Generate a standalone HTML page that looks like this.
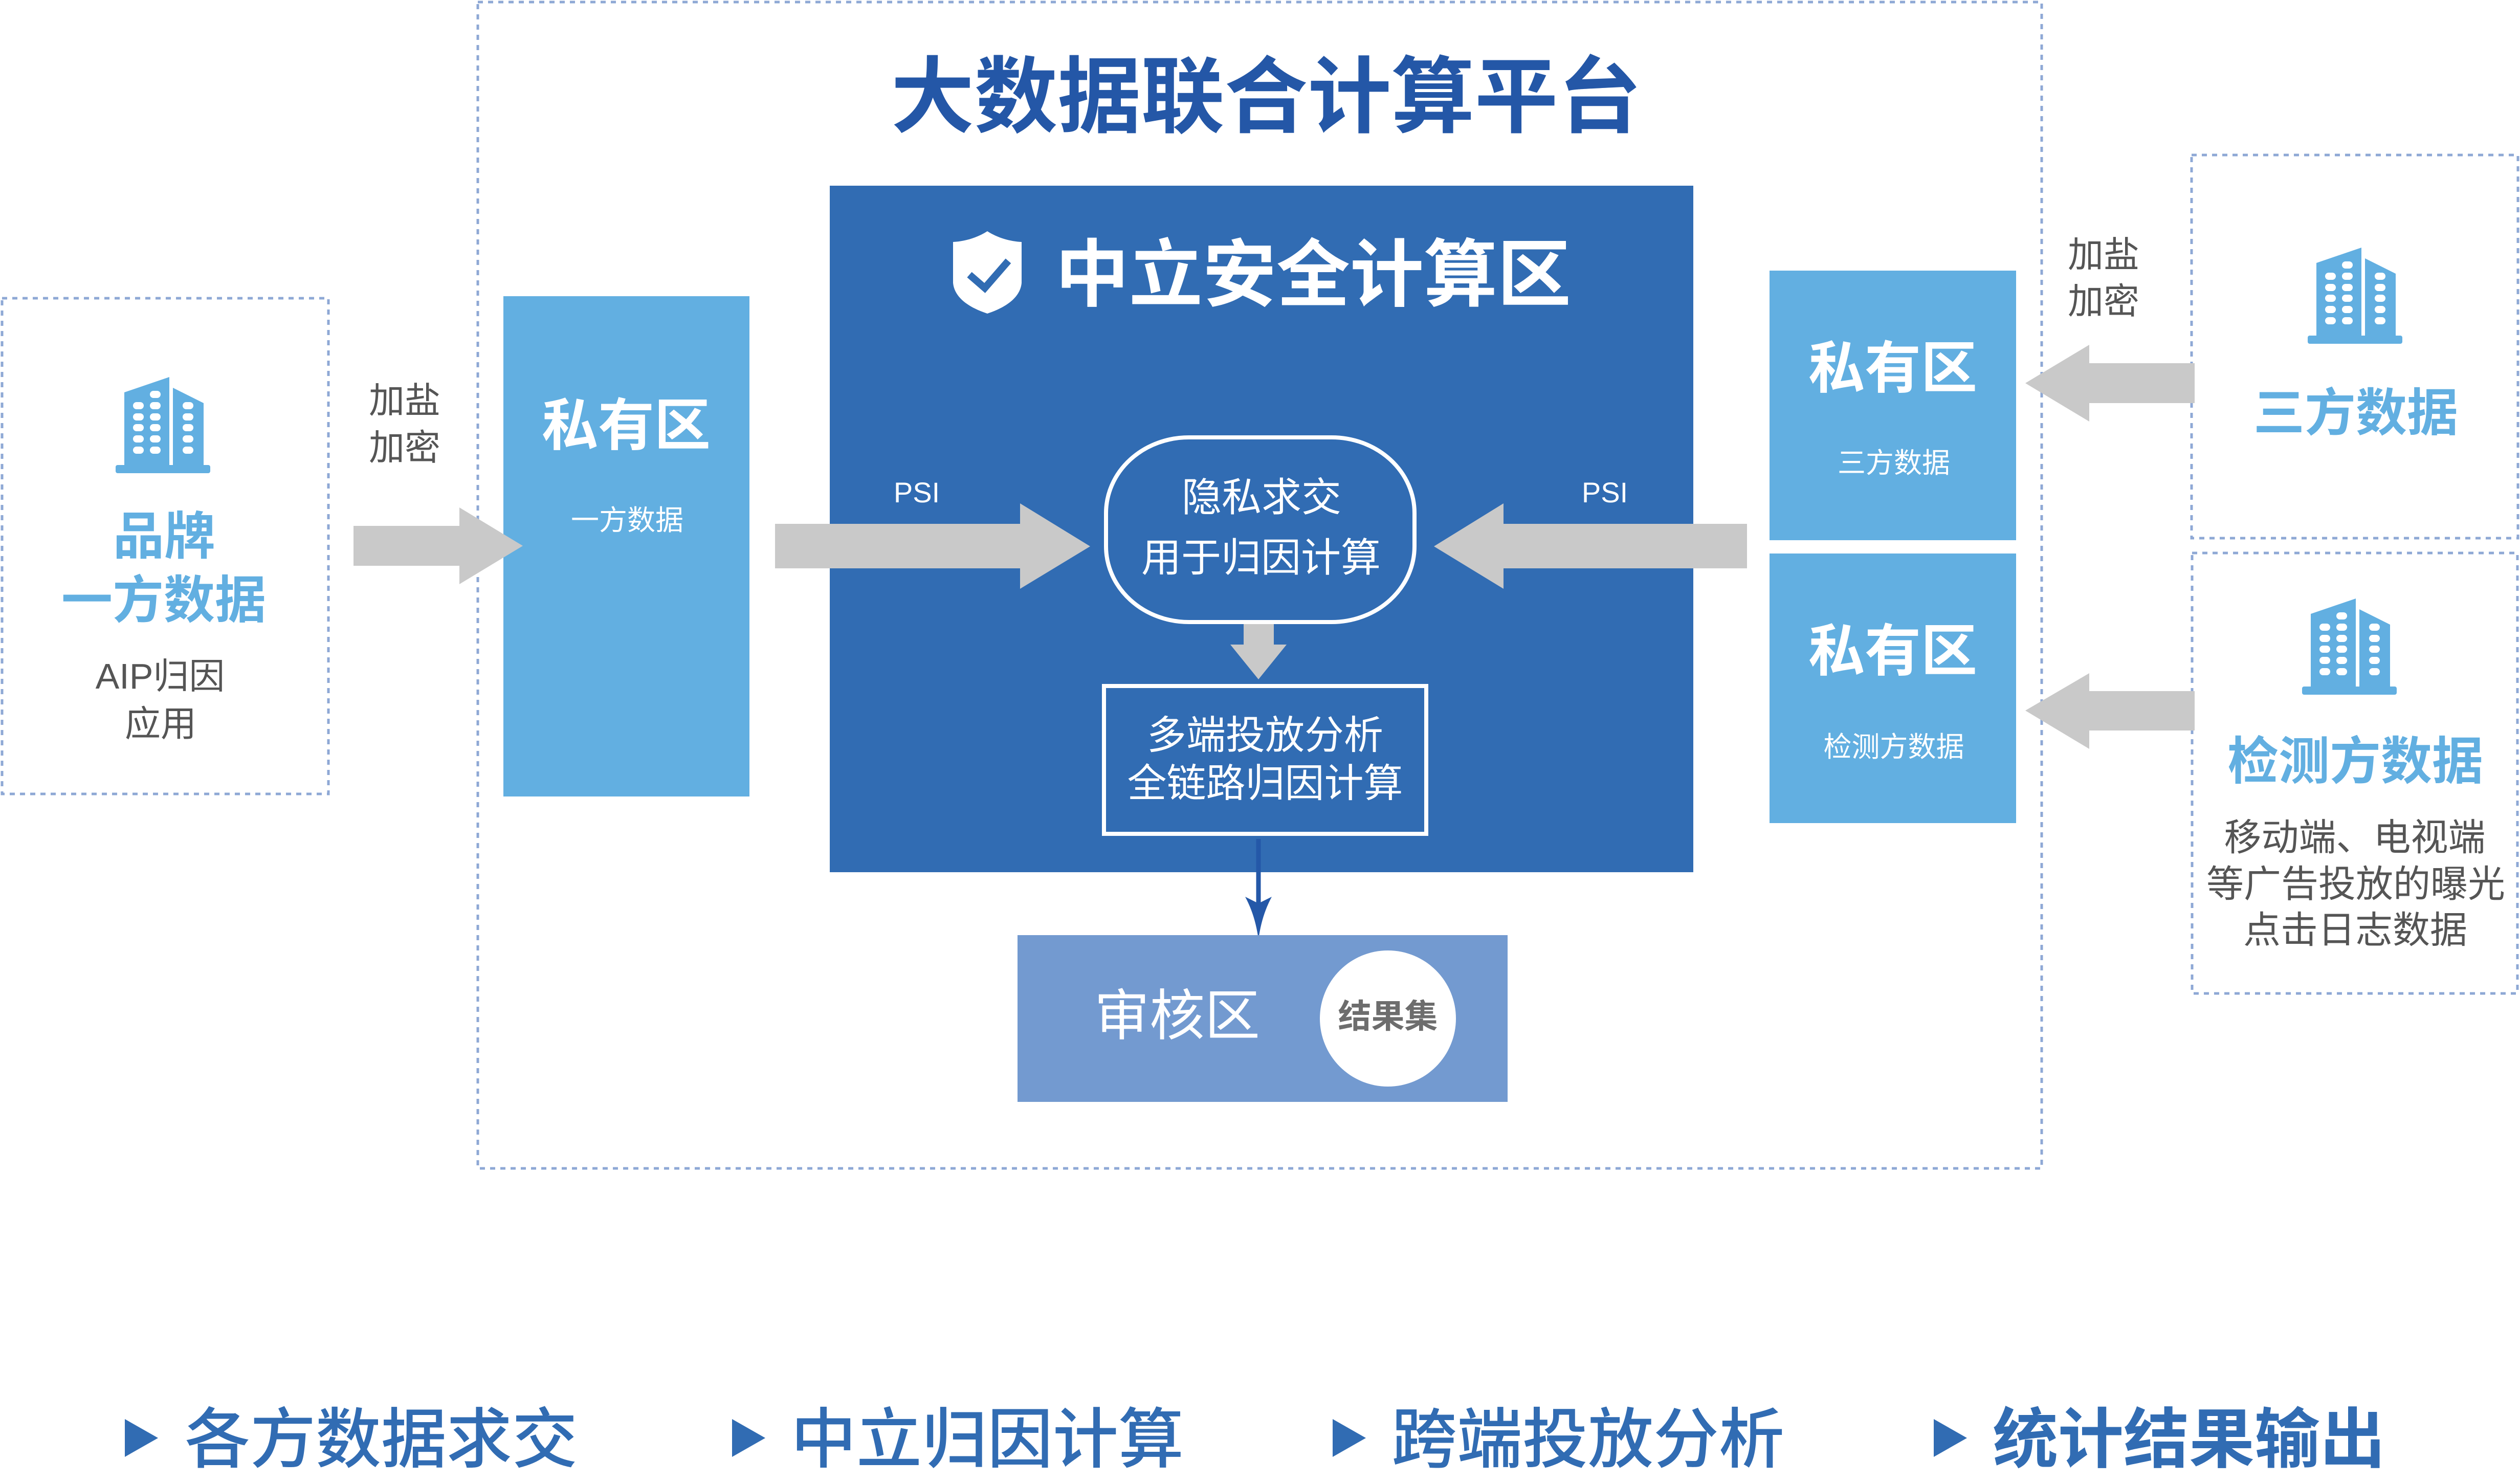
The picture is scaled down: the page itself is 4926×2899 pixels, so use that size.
<!DOCTYPE html>
<html>
<head>
<meta charset="utf-8">
<style>
  html,body{margin:0;padding:0;background:#ffffff;}
  svg{display:block;}
</style>
</head>
<body>
<svg width="4926" height="2899" viewBox="0 0 4926 2899" xmlns="http://www.w3.org/2000/svg" font-family="'Liberation Sans','Noto Sans CJK SC',sans-serif">
  <rect x="0" y="0" width="4926" height="2899" fill="#ffffff"/>

  <!-- dashed containers -->
  <g fill="none" stroke="#8ea8d5" stroke-width="5" stroke-dasharray="10 10">
    <rect x="934" y="4" width="3057" height="2280"/>
    <rect x="4" y="583" width="638" height="969"/>
    <rect x="4284" y="303" width="638" height="749"/>
    <rect x="4285" y="1081" width="636" height="861"/>
  </g>

  <!-- title -->
  <text x="2475" y="246" font-size="163" font-weight="bold" fill="#2457a7" text-anchor="middle">大数据联合计算平台</text>

  <!-- left private box -->
  <rect x="984" y="579" width="481" height="978" fill="#62afe1"/>
  <text x="1224" y="870" font-size="110" font-weight="bold" fill="#ffffff" text-anchor="middle">私有区</text>
  <text x="1226" y="1036" font-size="55" fill="#ffffff" text-anchor="middle">一方数据</text>

  <!-- right private boxes -->
  <rect x="3459" y="529" width="482" height="527" fill="#62afe1"/>
  <rect x="3459" y="1082" width="482" height="527" fill="#62afe1"/>
  <text x="3700" y="758" font-size="110" font-weight="bold" fill="#ffffff" text-anchor="middle">私有区</text>
  <text x="3702" y="924" font-size="55" fill="#ffffff" text-anchor="middle">三方数据</text>
  <text x="3700" y="1311" font-size="110" font-weight="bold" fill="#ffffff" text-anchor="middle">私有区</text>
  <text x="3702" y="1479" font-size="55" fill="#ffffff" text-anchor="middle">检测方数据</text>

  <!-- dark secure zone -->
  <rect x="1622" y="363" width="1688" height="1342" fill="#316cb3"/>

  <!-- shield -->
  <path d="M1930,452 C1910,465 1885,472 1863,473 L1863,553 C1866,585 1900,603 1930,613 C1960,603 1994,585 1997,553 L1997,473 C1975,472 1950,465 1930,452 Z" fill="#ffffff"/>
  <polyline points="1895,537 1925,563 1971,510" fill="none" stroke="#316cb3" stroke-width="14"/>
  <text x="2567" y="587" font-size="144" font-weight="bold" fill="#ffffff" text-anchor="middle">中立安全计算区</text>

  <!-- PSI labels -->
  <text x="1792" y="982" font-size="56" fill="#ffffff" text-anchor="middle">PSI</text>
  <text x="3137" y="982" font-size="56" fill="#ffffff" text-anchor="middle">PSI</text>

  <!-- gray arrows -->
  <g fill="#c9c9c9">
    <polygon points="691,1028 898,1028 898,992 1022,1067 898,1142 898,1106 691,1106"/>
    <polygon points="1515,1024 1994,1024 1994,984 2131,1068 1994,1151 1994,1111 1515,1111"/>
    <polygon points="3415,1024 2939,1024 2939,984 2803,1068 2939,1151 2939,1111 3415,1111"/>
    <polygon points="4290,710 4084,710 4084,674 3959,749 4084,824 4084,788 4290,788"/>
    <polygon points="4290,1351 4084,1351 4084,1316 3959,1389 4084,1464 4084,1428 4290,1428"/>
    <polygon points="2431,1220 2490,1220 2490,1260 2515,1260 2460,1328 2405,1260 2431,1260"/>
  </g>

  <!-- oval PSI node -->
  <rect x="2162" y="855" width="603" height="361" rx="162" ry="148" fill="none" stroke="#ffffff" stroke-width="8"/>
  <text x="2466" y="999" font-size="78" fill="#ffffff" text-anchor="middle">隐私求交</text>
  <text x="2465" y="1117" font-size="78" fill="#ffffff" text-anchor="middle">用于归因计算</text>

  <!-- analysis box -->
  <rect x="2158" y="1341" width="630" height="289" fill="none" stroke="#ffffff" stroke-width="8"/>
  <text x="2473" y="1464" font-size="77" fill="#ffffff" text-anchor="middle">多端投放分析</text>
  <text x="2473" y="1558" font-size="77" fill="#ffffff" text-anchor="middle">全链路归因计算</text>

  <!-- blue connector -->
  <line x1="2460" y1="1640" x2="2460" y2="1770" stroke="#2458a8" stroke-width="9"/>
  <path d="M2434,1753 L2460,1766 L2486,1753 Q2466,1790 2460,1837 Q2454,1790 2434,1753 Z" fill="#2458a8"/>

  <!-- audit zone -->
  <rect x="1989" y="1828" width="958" height="326" fill="#739ad0"/>
  <text x="2301" y="2023" font-size="108" fill="#ffffff" text-anchor="middle">审核区</text>
  <circle cx="2713" cy="1991" r="133" fill="#ffffff"/>
  <text x="2713" y="2009" font-size="65" font-weight="bold" fill="#6d6d6d" text-anchor="middle">结果集</text>

  <!-- building icons -->
  <g transform="translate(226,737)">
    <polygon points="17,30 105,0 105,172 17,172" fill="#62afe1"/>
    <polygon points="112,21 172,51 172,172 112,172" fill="#62afe1"/>
    <rect x="0" y="172" width="185" height="16" rx="4" fill="#62afe1"/>
    <g fill="#ffffff">
      <rect x="34" y="49" width="21" height="14" rx="7"/><rect x="34" y="71" width="21" height="14" rx="7"/><rect x="34" y="92" width="21" height="14" rx="7"/><rect x="34" y="114" width="21" height="14" rx="7"/><rect x="34" y="136" width="21" height="14" rx="7"/>
      <rect x="67" y="27" width="21" height="14" rx="7"/><rect x="67" y="49" width="21" height="14" rx="7"/><rect x="67" y="71" width="21" height="14" rx="7"/><rect x="67" y="92" width="21" height="14" rx="7"/><rect x="67" y="114" width="21" height="14" rx="7"/><rect x="67" y="136" width="21" height="14" rx="7"/>
      <rect x="131" y="49" width="21" height="14" rx="7"/><rect x="131" y="71" width="21" height="14" rx="7"/><rect x="131" y="92" width="21" height="14" rx="7"/><rect x="131" y="114" width="21" height="14" rx="7"/><rect x="131" y="136" width="21" height="14" rx="7"/>
    </g>
  </g>
  <g transform="translate(4511,484)">
    <polygon points="17,30 105,0 105,172 17,172" fill="#62afe1"/>
    <polygon points="112,21 172,51 172,172 112,172" fill="#62afe1"/>
    <rect x="0" y="172" width="185" height="16" rx="4" fill="#62afe1"/>
    <g fill="#ffffff">
      <rect x="34" y="49" width="21" height="14" rx="7"/><rect x="34" y="71" width="21" height="14" rx="7"/><rect x="34" y="92" width="21" height="14" rx="7"/><rect x="34" y="114" width="21" height="14" rx="7"/><rect x="34" y="136" width="21" height="14" rx="7"/>
      <rect x="67" y="27" width="21" height="14" rx="7"/><rect x="67" y="49" width="21" height="14" rx="7"/><rect x="67" y="71" width="21" height="14" rx="7"/><rect x="67" y="92" width="21" height="14" rx="7"/><rect x="67" y="114" width="21" height="14" rx="7"/><rect x="67" y="136" width="21" height="14" rx="7"/>
      <rect x="131" y="49" width="21" height="14" rx="7"/><rect x="131" y="71" width="21" height="14" rx="7"/><rect x="131" y="92" width="21" height="14" rx="7"/><rect x="131" y="114" width="21" height="14" rx="7"/><rect x="131" y="136" width="21" height="14" rx="7"/>
    </g>
  </g>
  <g transform="translate(4500,1170)">
    <polygon points="17,30 105,0 105,172 17,172" fill="#62afe1"/>
    <polygon points="112,21 172,51 172,172 112,172" fill="#62afe1"/>
    <rect x="0" y="172" width="185" height="16" rx="4" fill="#62afe1"/>
    <g fill="#ffffff">
      <rect x="34" y="49" width="21" height="14" rx="7"/><rect x="34" y="71" width="21" height="14" rx="7"/><rect x="34" y="92" width="21" height="14" rx="7"/><rect x="34" y="114" width="21" height="14" rx="7"/><rect x="34" y="136" width="21" height="14" rx="7"/>
      <rect x="67" y="27" width="21" height="14" rx="7"/><rect x="67" y="49" width="21" height="14" rx="7"/><rect x="67" y="71" width="21" height="14" rx="7"/><rect x="67" y="92" width="21" height="14" rx="7"/><rect x="67" y="114" width="21" height="14" rx="7"/><rect x="67" y="136" width="21" height="14" rx="7"/>
      <rect x="131" y="49" width="21" height="14" rx="7"/><rect x="131" y="71" width="21" height="14" rx="7"/><rect x="131" y="92" width="21" height="14" rx="7"/><rect x="131" y="114" width="21" height="14" rx="7"/><rect x="131" y="136" width="21" height="14" rx="7"/>
    </g>
  </g>

  <!-- left source labels -->
  <text x="321" y="1083" font-size="100" font-weight="bold" fill="#62afe1" text-anchor="middle">品牌</text>
  <text x="320" y="1208" font-size="100" font-weight="bold" fill="#62afe1" text-anchor="middle">一方数据</text>
  <text x="313" y="1346" font-size="70" fill="#555555" text-anchor="middle">AIP归因</text>
  <text x="314" y="1439" font-size="70" fill="#555555" text-anchor="middle">应用</text>
  <text x="791" y="807" font-size="70" fill="#555555" text-anchor="middle">加盐</text>
  <text x="791" y="899" font-size="70" fill="#555555" text-anchor="middle">加密</text>

  <!-- right source labels -->
  <text x="4112" y="522" font-size="70" fill="#555555" text-anchor="middle">加盐</text>
  <text x="4112" y="613" font-size="70" fill="#555555" text-anchor="middle">加密</text>
  <text x="4605" y="842" font-size="100" font-weight="bold" fill="#62afe1" text-anchor="middle">三方数据</text>
  <text x="4604" y="1523" font-size="100" font-weight="bold" fill="#62afe1" text-anchor="middle">检测方数据</text>
  <text x="4603" y="1662" font-size="73" fill="#555555" text-anchor="middle">移动端、电视端</text>
  <text x="4605" y="1753" font-size="73" fill="#555555" text-anchor="middle">等广告投放的曝光</text>
  <text x="4604" y="1843" font-size="73" fill="#555555" text-anchor="middle">点击日志数据</text>

  <!-- bottom legend -->
  <g fill="#316cb3">
    <polygon points="244,2774 309,2811 244,2848"/>
    <polygon points="1431,2774 1496,2811 1431,2848"/>
    <polygon points="2605,2774 2670,2811 2605,2848"/>
    <polygon points="3780,2774 3845,2811 3780,2848"/>
  </g>
  <text x="361" y="2858" font-size="128" font-weight="500" fill="#316cb3">各方数据求交</text>
  <text x="1546" y="2858" font-size="128" font-weight="500" fill="#316cb3">中立归因计算</text>
  <text x="2720" y="2858" font-size="128" font-weight="500" fill="#316cb3">跨端投放分析</text>
  <text x="3895" y="2858" font-size="128" font-weight="bold" fill="#316cb3">统计结果输出</text>
</svg>
</body>
</html>
